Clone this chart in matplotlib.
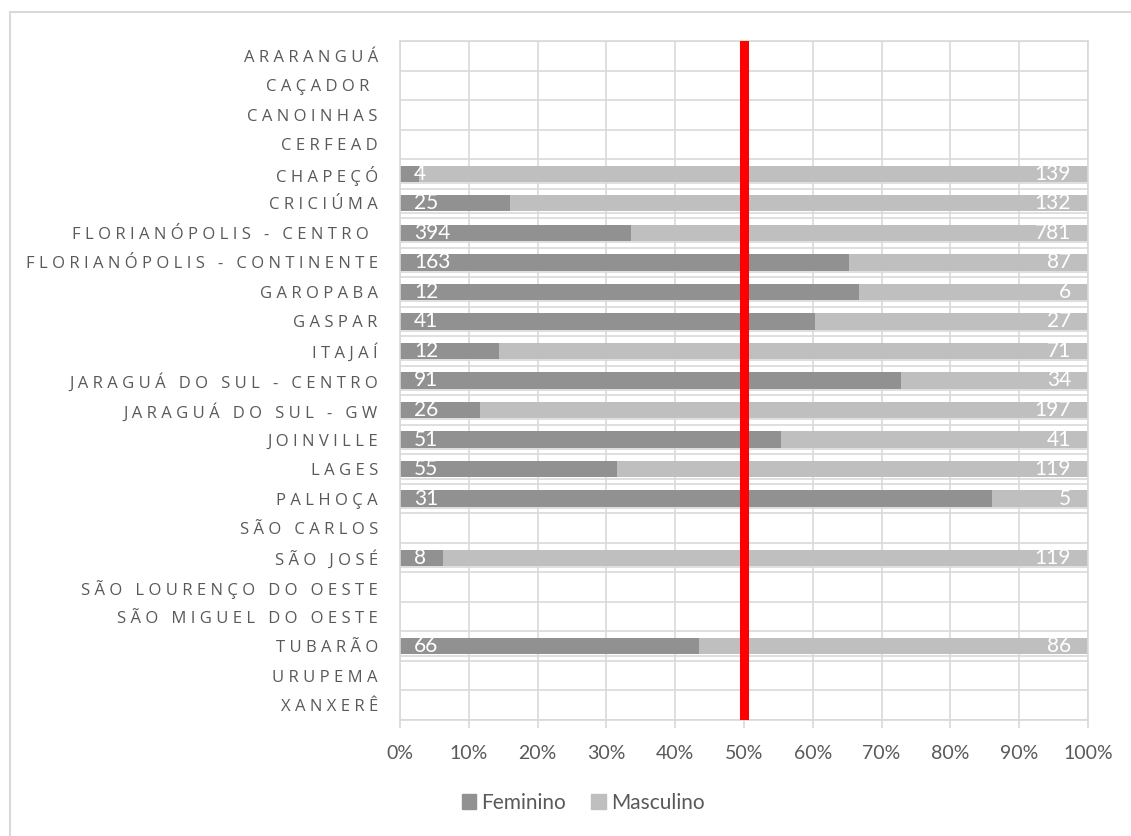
import matplotlib

matplotlib.use("Agg")
import matplotlib.pyplot as plt
import numpy as np
from matplotlib.lines import Line2D
from matplotlib.patches import Patch

plt.rcParams["font.family"] = ["Lato", "DejaVu Sans"]

# Matrículas por câmpus, separadas por sexo
campus = [
    "ARARANGUÁ",
    "CAÇADOR ",
    "CANOINHAS",
    "CERFEAD",
    "CHAPEÇÓ",
    "CRICIÚMA",
    "FLORIANÓPOLIS - CENTRO ",
    "FLORIANÓPOLIS - CONTINENTE",
    "GAROPABA",
    "GASPAR",
    "ITAJAÍ",
    "JARAGUÁ DO SUL - CENTRO",
    "JARAGUÁ DO SUL - GW",
    "JOINVILLE",
    "LAGES",
    "PALHOÇA",
    "SÃO CARLOS",
    "SÃO JOSÉ",
    "SÃO LOURENÇO DO OESTE",
    "SÃO MIGUEL DO OESTE",
    "TUBARÃO",
    "URUPEMA",
    "XANXERÊ",
]
feminino = [0, 0, 0, 0, 4, 25, 394, 163, 12, 41, 12, 91, 26, 51, 55, 31, 0, 8, 0, 0, 66, 0, 0]
masculino = [0, 0, 0, 0, 139, 132, 781, 87, 6, 27, 71, 34, 197, 41, 119, 5, 0, 119, 0, 0, 86, 0, 0]
limite = 0.5
xticks = [0.0, 0.1, 0.2, 0.3, 0.4, 0.5, 0.6, 0.7, 0.8, 0.9, 1.0]

COR_FEM = "#919191"
COR_MASC = "#bfbfbf"
COR_GRADE = "#d9d9d9"
COR_TEXTO = "#595959"

fem = np.array(feminino, dtype=float)
masc = np.array(masculino, dtype=float)
total = fem + masc
safe = np.where(total > 0, total, 1)
p_fem = fem / safe
p_masc = masc / safe
y = np.arange(len(campus))
bar_h = 0.55

W, H = 1131, 836
fig = plt.figure(figsize=(W / 100, H / 100), dpi=100)
ax = fig.add_axes([400 / W, 1 - 720 / H, 688 / W, 679 / H])

# grade: linhas verticais a cada 10% e horizontais entre categorias
for v in xticks:
    ax.axvline(v, color=COR_GRADE, lw=1.2, zorder=0)
for b in np.arange(-0.5, len(campus), 1.0):
    ax.axhline(b, color=COR_GRADE, lw=1.2, zorder=0)
com_dados = y[total > 0]
ax.hlines(com_dados + bar_h / 2 + 0.045, 0, 1, color=COR_GRADE, lw=1.2, zorder=0)

ax.barh(y, p_fem, height=bar_h, color=COR_FEM, zorder=2, label="Feminino")
ax.barh(y, p_masc, left=p_fem, height=bar_h, color=COR_MASC, zorder=2, label="Masculino")

ax.axvline(limite, color="red", lw=6.5, zorder=3)

for i in range(len(campus)):
    if fem[i] > 0:
        ax.annotate(f"{int(fem[i])}", xy=(0, i), xytext=(14, 0), textcoords="offset pixels",
                    ha="left", va="center", color="white", fontsize=15, zorder=4)
    if masc[i] > 0:
        ax.annotate(f"{int(masc[i])}", xy=(p_fem[i] + p_masc[i], i), xytext=(-17, 0),
                    textcoords="offset pixels", ha="right", va="center", color="white",
                    fontsize=15, zorder=4)

ax.set_xlim(0, 1)
ax.set_ylim(len(campus) - 0.5, -0.5)
ax.set_xticks(xticks)
ax.set_xticklabels([f"{int(round(v * 100))}%" for v in xticks], fontsize=14, color=COR_TEXTO)
ax.set_yticks(y)
ax.set_yticklabels([" ".join(c) for c in campus], family="Open Sans", fontsize=12,
                   color=COR_TEXTO)
ax.tick_params(axis="x", length=6, width=1.2, color=COR_GRADE, pad=12)
ax.tick_params(axis="y", length=0, pad=16)
for s in ax.spines.values():
    s.set_color(COR_GRADE)
    s.set_linewidth(1.2)

handles = [Patch(color=COR_FEM, label="Feminino"), Patch(color=COR_MASC, label="Masculino")]
leg = fig.legend(handles=handles, loc="center", bbox_to_anchor=(583 / W, 1 - 803 / H),
                 ncol=2, frameon=False, fontsize=15, handlelength=0.7, handleheight=0.7,
                 handletextpad=0.25, columnspacing=1.2)
for t in leg.get_texts():
    t.set_color(COR_TEXTO)

# moldura do gráfico
fig.add_artist(Line2D([10 / W, 10 / W], [0, 1 - 12 / H], color=COR_GRADE, lw=1.5))
fig.add_artist(Line2D([10 / W, 1], [1 - 12 / H, 1 - 12 / H], color=COR_GRADE, lw=1.5))

fig.savefig("out.png", dpi=100)
